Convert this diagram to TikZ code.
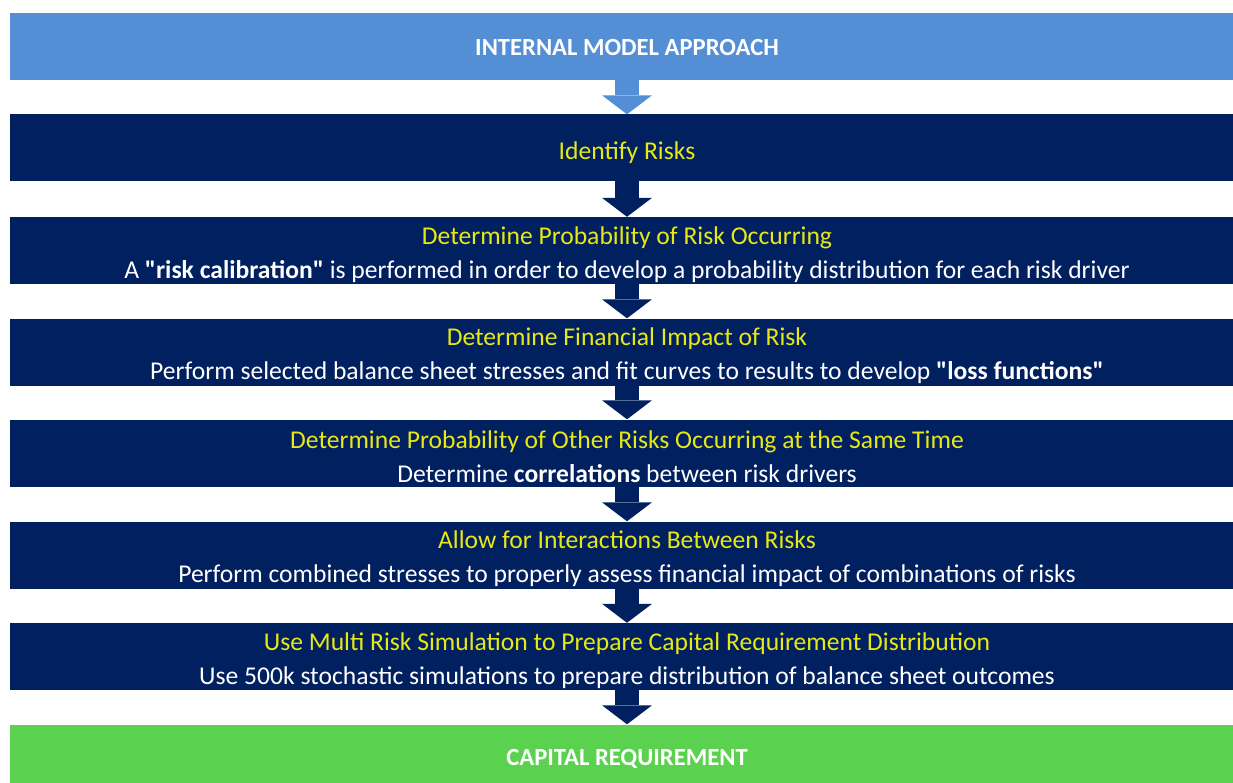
\documentclass[tikz,border=0pt]{standalone}
\usepackage{fontspec}
\setmainfont{Carlito}[Ligatures=TeXOff]
\usetikzlibrary{arrows.meta}
\definecolor{lightblu}{RGB}{84,142,213}
\definecolor{navyblu}{RGB}{0,32,96}
\definecolor{greenbox}{RGB}{91,209,80}
\definecolor{titleyel}{RGB}{232,232,20}
\newcommand{\ttl}[1]{\textcolor{titleyel}{#1}}
\begin{document}
\begin{tikzpicture}[x=1pt,y=-1pt,
	box/.style={rectangle,minimum width=1234pt,minimum height=67pt,inner sep=0pt},
	txt/.style={align=center,inner sep=0pt,text=white,font=\fontsize{25.6}{34}\selectfont,yshift=-4pt},
	captxt/.style={txt,font=\fontsize{24.6}{34}\selectfont\bfseries,yshift=3pt},
	fat/.style={line width=24pt,-{Triangle[length=19pt,width=50pt,line width=0pt]},shorten <=-1pt}]
	\useasboundingbox (0,0) rectangle (1233,783);
	\node [box,fill=lightblu,label={[captxt]center:INTERNAL MODEL APPROACH}] (ima) at (627,47) {};
	\node [box,fill=navyblu,label={[txt,yshift=-0.5pt]center:\ttl{Identify Risks}}] (ident) at (627,148) {};
	\node [box,fill=navyblu,label={[txt]center:{\ttl{Determine Probability of Risk Occurring}\\A \textbf{"risk calibration"} is performed in order to develop a probability distribution for each risk driver}}] (prob) at (627,250.5) {};
	\node [box,fill=navyblu,label={[txt]center:{\ttl{Determine Financial Impact of Risk}\\Perform selected balance sheet stresses and fit curves to results to develop \textbf{"loss functions"}}}] (fin) at (627,352) {};
	\node [box,fill=navyblu,label={[txt]center:{\ttl{Determine Probability of Other Risks Occurring at the Same Time}\\Determine \textbf{correlations} between risk drivers}}] (corr) at (627,453) {};
	\node [box,fill=navyblu,label={[txt]center:{\ttl{Allow for Interactions Between Risks}\\Perform combined stresses to properly assess financial impact of combinations of risks}}] (inter) at (627,555) {};
	\node [box,fill=navyblu,label={[txt]center:{\ttl{Use Multi Risk Simulation to Prepare Capital Requirement Distribution}\\Use 500k stochastic simulations to prepare distribution of balance sheet outcomes}}] (sim) at (627,656.5) {};
	\node [box,fill=greenbox,label={[captxt]center:CAPITAL REQUIREMENT}] (cap) at (627,758) {};
	% arrows between the steps
	\draw [fat,lightblu] (ima.south) -- (ident.north);
	\draw [fat,navyblu] (ident.south) -- (prob.north);
	\draw [fat,navyblu] (prob.south) -- (fin.north);
	\draw [fat,navyblu] (fin.south) -- (corr.north);
	\draw [fat,navyblu] (corr.south) -- (inter.north);
	\draw [fat,navyblu] (inter.south) -- (sim.north);
	\draw [fat,navyblu] (sim.south) -- (cap.north);
\end{tikzpicture}
\end{document}
